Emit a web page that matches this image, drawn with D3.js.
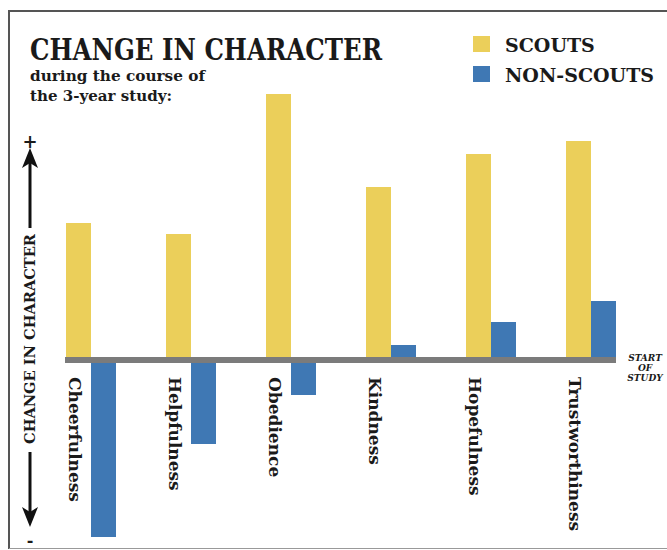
<!DOCTYPE html>
<html>
<head>
<meta charset="utf-8">
<script src="https://cdn.jsdelivr.net/npm/d3@7"></script>
<style>
body { margin: 0; background: #fff; }
svg text { font-family: "DejaVu Serif", serif; font-weight: bold; fill: #1a1a1a; }
</style>
</head>
<body>
<div id="chart"></div>
<script>
// values (relative units, 0 = start of study)
var categories = ["Cheerfulness", "Helpfulness", "Obedience", "Kindness", "Hopefulness", "Trustworthiness"];
var scouts = [137, 126, 266, 173, 206, 219];
var nonScouts = [-177, -84, -35, 15, 38, 59];
var seriesNames = ["SCOUTS", "NON-SCOUTS"];
var colors = ["#ebcf5a", "#3f78b4"];

var W = 667, H = 550;

var svg = d3.select("#chart")
	.append("svg")
	.attr("width", W)
	.attr("height", H);

// frame
svg.append("path")
	.attr("d", "M9,549 V11 H667")
	.attr("fill", "none")
	.attr("stroke", "#555")
	.attr("stroke-width", 2);
svg.append("line")
	.attr("x1", 9).attr("x2", 667)
	.attr("y1", 548.5).attr("y2", 548.5)
	.attr("stroke", "#999").attr("stroke-width", 1);

var x = d3.scaleBand()
	.domain(categories)
	.range([41, 641])
	.paddingInner(0.5)
	.paddingOuter(0.25);

var xs = d3.scaleBand()
	.domain(seriesNames)
	.range([0, x.bandwidth()]);

var y = d3.scaleLinear()
	.domain([-200, 300])
	.range([560, 60]);

var rows = categories.map(function(c, i) {
	return { cat: c, vals: [scouts[i], nonScouts[i]] };
});

var groups = svg.selectAll("g.grp")
	.data(rows)
	.enter()
	.append("g")
	.attr("class", "grp")
	.attr("transform", function(d) { return "translate(" + x(d.cat) + ",0)"; });

groups.selectAll("rect")
	.data(function(d) { return d.vals.map(function(v, i) { return { s: seriesNames[i], v: v, i: i }; }); })
	.enter()
	.append("rect")
	.attr("x", function(d) { return xs(d.s); })
	.attr("width", xs.bandwidth())
	.attr("y", function(d) { return y(Math.max(0, d.v)); })
	.attr("height", function(d) { return Math.abs(y(d.v) - y(0)); })
	.attr("fill", function(d) { return colors[d.i]; });

// baseline
svg.append("rect")
	.attr("x", x(categories[0]) - 1)
	.attr("width", x(categories[5]) + x.bandwidth() - x(categories[0]) + 1)
	.attr("y", y(0) - 3)
	.attr("height", 6)
	.attr("fill", "#7b7b7b");

// category labels
groups.append("text")
	.attr("transform", "translate(3," + (y(0) + 17) + ") rotate(90)")
	.attr("font-size", 17)
	.text(function(d) { return d.cat; });

// start of study
var st = svg.append("text")
	.attr("font-size", 9)
	.attr("font-style", "italic")
	.attr("text-anchor", "middle");
["START", "OF", "STUDY"].forEach(function(t, i) {
	st.append("tspan").attr("x", 645).attr("y", y(0) + 1 + i * 10).text(t);
});

// title
svg.append("text")
	.attr("x", 30).attr("y", 60)
	.attr("font-size", 29)
	.attr("textLength", 352)
	.attr("lengthAdjust", "spacingAndGlyphs")
	.text("CHANGE IN CHARACTER");
svg.append("text")
	.attr("x", 30).attr("y", 81)
	.attr("font-size", 15)
	.attr("textLength", 175)
	.attr("lengthAdjust", "spacingAndGlyphs")
	.text("during the course of");
svg.append("text")
	.attr("x", 30).attr("y", 101)
	.attr("font-size", 15)
	.attr("textLength", 142)
	.attr("lengthAdjust", "spacingAndGlyphs")
	.text("the 3-year study:");

// legend
var leg = svg.selectAll("g.leg")
	.data(seriesNames)
	.enter()
	.append("g")
	.attr("class", "leg")
	.attr("transform", function(d, i) { return "translate(473," + (36 + i * 30) + ")"; });
leg.append("rect")
	.attr("width", 17).attr("height", 16)
	.attr("fill", function(d, i) { return colors[i]; });
leg.append("text")
	.attr("x", 32).attr("y", 16)
	.attr("font-size", 19)
	.text(function(d) { return d; });

// vertical axis label with arrows
svg.append("text")
	.attr("transform", "translate(35,339) rotate(-90)")
	.attr("text-anchor", "middle")
	.attr("font-size", 14)
	.attr("textLength", 210)
	.attr("lengthAdjust", "spacingAndGlyphs")
	.text("CHANGE IN CHARACTER");
svg.append("line")
	.attr("x1", 30).attr("x2", 30).attr("y1", 228).attr("y2", 160)
	.attr("stroke", "#111").attr("stroke-width", 3);
svg.append("line")
	.attr("x1", 30).attr("x2", 30).attr("y1", 452).attr("y2", 515)
	.attr("stroke", "#111").attr("stroke-width", 3);
svg.append("path")
	.attr("d", "M30,148 L22,168 L30,163 L38,168 Z")
	.attr("fill", "#111");
svg.append("path")
	.attr("d", "M30,527 L22,507 L30,512 L38,507 Z")
	.attr("fill", "#111");
svg.append("text")
	.attr("x", 30).attr("y", 148)
	.attr("text-anchor", "middle")
	.attr("font-size", 18)
	.text("+");
svg.append("text")
	.attr("x", 30).attr("y", 546)
	.attr("text-anchor", "middle")
	.attr("font-size", 16)
	.text("-");
</script>
</body>
</html>
